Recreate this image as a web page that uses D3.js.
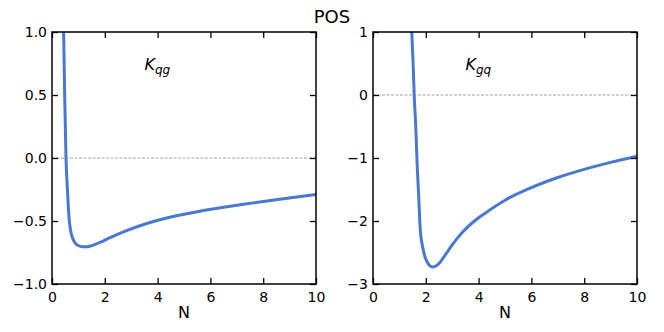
<!DOCTYPE html>
<html>
<head>
<meta charset="utf-8">
<script src="https://cdn.jsdelivr.net/npm/d3@7"></script>
<style>
  body { margin: 0; background: #fff; }
  text { font-family: "DejaVu Sans", sans-serif; }
</style>
</head>
<body>
<div id="chart"></div>
<script>
// curve values
const qgN = [0.40, 0.44, 0.48, 0.53, 0.59, 0.64, 0.70, 0.78, 0.88, 1.00, 1.15, 1.30, 1.50, 1.82, 2.20, 2.80, 3.71, 4.50, 5.60, 6.50, 7.50, 8.70, 10.0];
const qgK = [1.30, 1.00, 0.50, 0.00, -0.27, -0.46, -0.57, -0.635, -0.675, -0.695, -0.705, -0.705, -0.695, -0.67, -0.632, -0.578, -0.512, -0.468, -0.422, -0.391, -0.36, -0.325, -0.29];

const gqN = [1.44, 1.47, 1.52, 1.56, 1.62, 1.67, 1.73, 1.79, 1.88, 1.97, 2.06, 2.15, 2.26, 2.40, 2.55, 2.70, 2.85, 3.00, 3.30, 3.60, 3.90, 4.30, 5.00, 6.00, 7.00, 8.00, 9.00, 10.0];
const gqK = [1.50, 1.00, 0.50, 0.00, -0.50, -1.08, -1.60, -2.14, -2.41, -2.57, -2.66, -2.71, -2.73, -2.71, -2.65, -2.56, -2.47, -2.38, -2.22, -2.09, -1.98, -1.86, -1.67, -1.47, -1.31, -1.18, -1.07, -0.97];

const xTicks = [0, 2, 4, 6, 8, 10];
const qgTicks = [-1.0, -0.5, 0.0, 0.5, 1.0];
const gqTicks = [-3, -2, -1, 0, 1];

const W = 664, H = 332;
const svg = d3.select('#chart').append('svg')
    .attr('width', W)
    .attr('height', H);

svg.append('text')
    .attr('x', 332)
    .attr('y', 23)
    .attr('text-anchor', 'middle')
    .style('font-size', '18px')
    .text('POS');

const fmtMinus = s => s.replace('-', '\u2212');

function panel(left, n, k, yDomain, yTicks, yFmt, label, sub) {
    const top = 32, bottom = 284, right = left + 264;
    const x = d3.scaleLinear().domain([0, 10]).range([left, right]);
    const y = d3.scaleLinear().domain(yDomain).range([bottom, top]);
    const id = 'clip' + left;

    svg.append('clipPath').attr('id', id)
        .append('rect')
        .attr('x', left).attr('y', top)
        .attr('width', right - left).attr('height', bottom - top);

    // zero line
    svg.append('line')
        .attr('x1', left).attr('x2', right)
        .attr('y1', y(0)).attr('y2', y(0))
        .attr('stroke', '#999')
        .attr('stroke-width', 0.9)
        .attr('stroke-dasharray', '3,1.5');

    const pts = n.map((v, i) => [v, k[i]]);
    svg.append('path')
        .datum(pts)
        .attr('clip-path', `url(#${id})`)
        .attr('fill', 'none')
        .attr('stroke', '#4878d0')
        .attr('stroke-width', 3)
        .attr('stroke-linejoin', 'round')
        .attr('d', d3.line()
            .x(d => x(d[0]))
            .y(d => y(d[1]))
            .curve(d3.curveMonotoneX));

    const tick = 6;
    const axB = svg.append('g').attr('transform', `translate(0,${bottom})`)
        .call(d3.axisBottom(x).tickValues(xTicks).tickSizeInner(-tick).tickSizeOuter(0).tickPadding(5));
    const axT = svg.append('g').attr('transform', `translate(0,${top})`)
        .call(d3.axisTop(x).tickValues(xTicks).tickSizeInner(-tick).tickSizeOuter(0).tickFormat(''));
    const axL = svg.append('g').attr('transform', `translate(${left},0)`)
        .call(d3.axisLeft(y).tickValues(yTicks).tickSizeInner(-tick).tickSizeOuter(0).tickPadding(5)
            .tickFormat(d => fmtMinus(yFmt(d))));
    const axR = svg.append('g').attr('transform', `translate(${right},0)`)
        .call(d3.axisRight(y).tickValues(yTicks).tickSizeInner(-tick).tickSizeOuter(0).tickFormat(''));

    [axB, axT, axL, axR].forEach(a => {
        a.select('.domain').remove();
        a.selectAll('line').attr('stroke', '#000').attr('stroke-width', 1.3);
        a.selectAll('text').style('font-size', '14px').attr('fill', '#000')
            .style('font-family', '"DejaVu Sans", sans-serif');
    });
    axB.selectAll('text').attr('dy', '0.9em');

    svg.append('rect')
        .attr('x', left).attr('y', top)
        .attr('width', right - left).attr('height', bottom - top)
        .attr('fill', 'none')
        .attr('stroke', '#000')
        .attr('stroke-width', 1.5);

    svg.append('text')
        .attr('x', (left + right) / 2)
        .attr('y', 318)
        .attr('text-anchor', 'middle')
        .style('font-size', '16px')
        .text('N');

    const lab = svg.append('text')
        .attr('x', x(3.5))
        .attr('y', 70)
        .style('font-size', '16px')
        .style('font-style', 'italic');
    lab.append('tspan').text(label);
    lab.append('tspan').attr('dy', 4).style('font-size', '12px').text(sub);
}

panel(52, qgN, qgK, [-1, 1], qgTicks, d3.format('.1f'), 'K', 'qg');
panel(373, gqN, gqK, [-3, 1], gqTicks, d3.format('d'), 'K', 'gq');
</script>
</body>
</html>
